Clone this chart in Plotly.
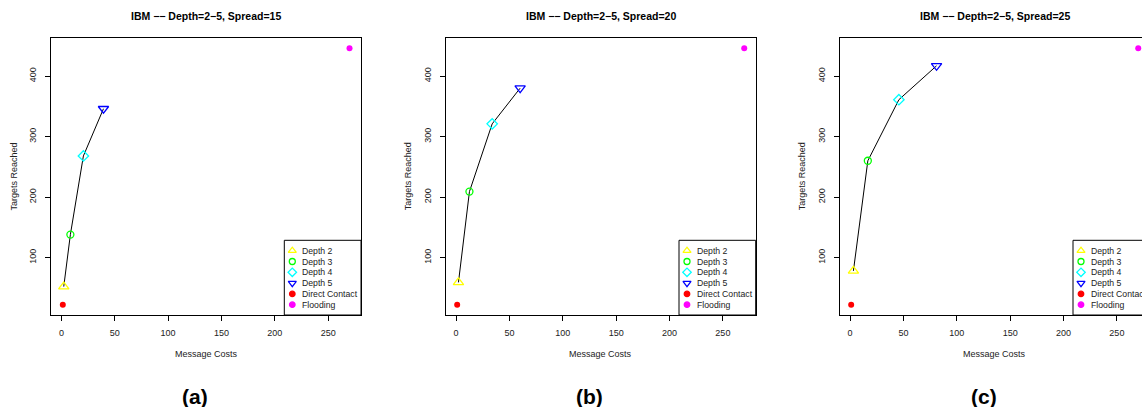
import plotly.graph_objects as go

# ---- data -------------------------------------------------------------
spreads = [15, 20, 25]
panel_tags = ["(a)", "(b)", "(c)"]
depth_labels = ["Depth 2", "Depth 3", "Depth 4", "Depth 5"]

# message cost / targets reached for depth 2..5, one list per spread
cost_s15 = [2.2, 8.4, 20.6, 39.4]
reach_s15 = [52, 138, 268, 346]
cost_s20 = [2.2, 12.5, 33.8, 60.0]
reach_s20 = [59, 209, 321, 380]
cost_s25 = [3.1, 16.6, 45.7, 81.0]
reach_s25 = [78, 260, 361, 417]

direct_cost = [1.3, 1.0, 1.0]
direct_reach = [22, 22, 22]
flood_cost = [270, 270, 270]
flood_reach = [446, 446, 446]

x_ticks = [0, 50, 100, 150, 200, 250]
y_ticks = [100, 200, 300, 400]

# ---- styling ----------------------------------------------------------
W, H = 1142, 407
FONT = "Liberation Sans, Arial, Helvetica, sans-serif"
depth_symbols = ["triangle-up-open", "circle-open", "diamond-open", "triangle-down-open"]
depth_sizes = [9, 7, 8, 9]
depth_colors = ["#FFFF00", "#00FF00", "#00FFFF", "#0000FF"]
legend_symbols = depth_symbols + ["circle", "circle"]
legend_sizes = [7, 6, 6.5, 7, 5.5, 5.5]
legend_colors = depth_colors + ["#FF0000", "#FF00FF"]
legend_labels = depth_labels + ["Direct Contact", "Flooding"]

# plot boxes in pixels (left, top, right, bottom); the last one runs past the page edge
boxes = [(51, 38, 361, 315), (445.7, 38, 755.7, 315), (839.7, 38, 1149.7, 315)]
label_x = [195, 589, 984]


def px(x):
    return x / W


def py(y):
    return 1 - y / H


costs = [cost_s15, cost_s20, cost_s25]
reaches = [reach_s15, reach_s20, reach_s25]

# R-style 4% padding around the data range
all_x = [v for c in costs for v in c] + direct_cost + flood_cost
all_y = [v for r in reaches for v in r] + direct_reach + flood_reach
xr = max(all_x) - min(all_x)
yr = max(all_y) - min(all_y)
x_lo, x_hi = min(all_x) - 0.04 * xr, max(all_x) + 0.04 * xr
y_lo, y_hi = min(all_y) - 0.04 * yr, max(all_y) + 0.04 * yr

fig = go.Figure()
annotations = []
shapes = []

for i, s in enumerate(spreads):
    xa = "x" if i == 0 else f"x{i + 1}"
    ya = "y" if i == 0 else f"y{i + 1}"
    left, top, right, bottom = boxes[i]

    # connecting line through the depth points
    fig.add_trace(go.Scatter(
        x=costs[i], y=reaches[i], mode="lines",
        line=dict(color="black", width=1), xaxis=xa, yaxis=ya,
        showlegend=False, hoverinfo="skip"))
    for k in range(len(depth_labels)):
        fig.add_trace(go.Scatter(
            x=[costs[i][k]], y=[reaches[i][k]], mode="markers",
            marker=dict(symbol=depth_symbols[k], size=depth_sizes[k], opacity=1,
                        color=depth_colors[k], line=dict(width=1.3, color=depth_colors[k])),
            xaxis=xa, yaxis=ya, showlegend=False, name=depth_labels[k]))
    fig.add_trace(go.Scatter(
        x=[direct_cost[i]], y=[direct_reach[i]], mode="markers",
        marker=dict(symbol="circle", size=6, color="#FF0000", opacity=1),
        xaxis=xa, yaxis=ya, showlegend=False, name="Direct Contact"))
    fig.add_trace(go.Scatter(
        x=[flood_cost[i]], y=[flood_reach[i]], mode="markers",
        marker=dict(symbol="circle", size=6, color="#FF00FF", opacity=1),
        xaxis=xa, yaxis=ya, showlegend=False, name="Flooding"))

    # domain is clipped to the page; the range is trimmed to match
    vis_right = min(right, W)
    x_end = x_lo + (x_hi - x_lo) * (vis_right - left) / (right - left)
    clipped = right > W

    axis_common = dict(showline=True, linecolor="black", linewidth=1,
                       ticks="outside", ticklen=5, tickcolor="black", tickwidth=1,
                       showgrid=False, zeroline=False,
                       tickfont=dict(family=FONT, size=9, color="#222"))
    fig.update_layout(**{
        ("xaxis" if i == 0 else f"xaxis{i + 1}"): dict(
            domain=[px(left), px(vis_right)], range=[x_lo, x_end],
            tickvals=x_ticks, mirror=True, anchor=ya,
            ticklabelstandoff=4, **axis_common),
        ("yaxis" if i == 0 else f"yaxis{i + 1}"): dict(
            domain=[py(bottom), py(top)], range=[y_lo, y_hi],
            tickvals=y_ticks, mirror=not clipped, anchor=xa, tickangle=-90,
            ticklabelstandoff=5, **axis_common),
    })

    cx = (left + right) / 2
    annotations.append(dict(
        text=f"<b>IBM \u2212\u2212 Depth=2\u22125, Spread={s}</b>",
        x=px(cx), y=py(16), xref="paper", yref="paper", showarrow=False,
        xanchor="center", yanchor="middle",
        font=dict(family=FONT, size=10.5, color="black")))
    annotations.append(dict(
        text="Targets Reached", textangle=-90,
        x=px(left - 37), y=py((top + bottom) / 2), xref="paper", yref="paper",
        showarrow=False, xanchor="center", yanchor="middle",
        font=dict(family=FONT, size=9, color="#222")))
    annotations.append(dict(
        text="Message Costs",
        x=px(cx), y=py(354), xref="paper", yref="paper",
        showarrow=False, xanchor="center", yanchor="middle",
        font=dict(family=FONT, size=9, color="#222")))
    annotations.append(dict(
        text=f"<b>{panel_tags[i]}</b>",
        x=px(label_x[i]), y=py(396), xref="paper", yref="paper",
        showarrow=False, xanchor="center", yanchor="middle",
        font=dict(family=FONT, size=21, color="black")))

    # legend box in the bottom-right corner of the plot
    lg_left = right - 76.7
    lg_top = 240.3
    shapes.append(dict(type="rect", xref="paper", yref="paper",
                       x0=px(lg_left), x1=px(right), y0=py(bottom), y1=py(lg_top),
                       line=dict(color="black", width=1), fillcolor="rgba(0,0,0,0)",
                       layer="above"))
    key_x, key_y = [], []
    for k, lab in enumerate(legend_labels):
        ry = lg_top + 10.4 + 10.8 * k
        key_x.append(lg_left + 8)
        key_y.append(ry)
        annotations.append(dict(
            text=lab, x=px(lg_left + 16), y=py(ry),
            xref="paper", yref="paper", showarrow=False,
            xanchor="left", yanchor="middle",
            font=dict(family=FONT, size=8.7, color="#222")))
    # legend keys on a page-pixel overlay axis
    fig.add_trace(go.Scatter(
        x=key_x, y=key_y, mode="markers",
        marker=dict(symbol=legend_symbols, size=legend_sizes, color=legend_colors,
                    opacity=1, line=dict(width=1.3, color=legend_colors)),
        xaxis="x4", yaxis="y4", showlegend=False, hoverinfo="skip"))

fig.update_layout(
    xaxis4=dict(domain=[0, 1], range=[0, W], visible=False, anchor="y4"),
    yaxis4=dict(domain=[0, 1], range=[H, 0], visible=False, anchor="x4"),
)

fig.update_layout(
    width=W, height=H,
    margin=dict(l=0, r=0, t=0, b=0, autoexpand=False),
    paper_bgcolor="white", plot_bgcolor="rgba(0,0,0,0)",
    showlegend=False,
    annotations=annotations, shapes=shapes,
)

fig.write_html("out.html")
